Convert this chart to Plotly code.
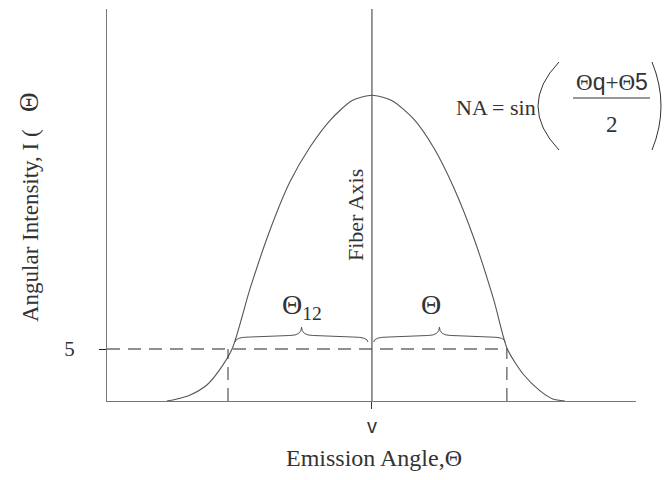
import plotly.graph_objects as go

# ---- data ----
angle_deg = [-45.6, -43.8, -40.4, -36.7, -34.2, -31.1, -27.1, -22.7, -18.2, -13.8, -9.3, -4.4, 0.0,
             4.4, 9.3, 13.8, 18.2, 22.7, 27.1, 30.1, 33.6, 37.3, 40.2, 42.9]
intensity = [0.0, 0.15, 0.58, 1.54, 2.8, 5.0, 10.8, 16.4, 21.1, 24.4, 27.0, 28.9, 29.4,
             28.9, 27.1, 24.3, 20.5, 15.6, 9.7, 5.0, 2.6, 1.0, 0.2, 0.0]
threshold = 5.0
cut_angles = [-32.0, 30.0]           # where the curve meets the threshold
brace_left = [-30.4, -0.9]
brace_right = [0.4, 29.6]
x_range = [-58.9, 58.7]
y_range = [0.0, 37.7]
x_ticks = [0.0]
x_ticktext = ["v"]
y_ticks = [5.0]
y_ticktext = ["5"]

SERIF = "Liberation Serif"
SANS = "Liberation Sans"
INK = "#333333"

fig = go.Figure()

# emission curve
fig.add_trace(go.Scatter(x=angle_deg, y=intensity, mode="lines",
                         line=dict(color="#555555", width=1.1, shape="spline", smoothing=0.7),
                         hoverinfo="skip", showlegend=False))
# fiber axis
fig.add_trace(go.Scatter(x=[0, 0], y=y_range, mode="lines",
                         line=dict(color="#444444", width=1.1), showlegend=False, hoverinfo="skip"))
# threshold dashed line
fig.add_trace(go.Scatter(x=[x_range[0], cut_angles[1]], y=[threshold, threshold], mode="lines",
                         line=dict(color="#222222", width=1.1, dash="13px,8px"),
                         showlegend=False, hoverinfo="skip"))
for ca in cut_angles:
    fig.add_trace(go.Scatter(x=[ca, ca], y=[0, threshold], mode="lines",
                             line=dict(color="#333333", width=1.0, dash="13px,8px"),
                             showlegend=False, hoverinfo="skip"))


def brace_path(x0, x1, ye, yf, yt, r_end=3.2, r_tip=2.6):
    xm = (x0 + x1) / 2
    return (f"M {x0},{ye} Q {x0},{yf} {x0 + r_end},{yf} "
            f"L {xm - r_tip},{yf + 0.15} Q {xm},{yf + 0.15} {xm},{yt} "
            f"Q {xm},{yf + 0.15} {xm + r_tip},{yf + 0.15} "
            f"L {x1 - r_end},{yf} Q {x1},{yf} {x1},{ye}")


for b in (brace_left, brace_right):
    fig.add_shape(type="path", xref="x", yref="y",
                  path=brace_path(b[0], b[1], threshold + 0.67, threshold + 1.15, threshold + 2.1),
                  line=dict(color="#555555", width=1.0))

W, H = 664, 480
L, R, T, B = 107, 28, 9, 79


def P(px, py):
    return (px - L) / (W - L - R), (H - B - py) / (H - T - B)


def ann(text, px, py, size, family=SERIF, angle=0, **kw):
    x, y = P(px, py)
    fig.add_annotation(x=x, y=y, xref="paper", yref="paper", text=text, showarrow=False,
                       textangle=angle, font=dict(family=family, size=size, color=INK),
                       xanchor="center", yanchor="middle", **kw)


ann("Θ<sub>12</sub>", 302, 306, 28)
ann("Θ", 431, 304, 28)
ann("Fiber Axis", 355, 215, 22, angle=-90)
ann("Angular Intensity, I (&nbsp;&nbsp;&nbsp;<span style='font-size:27px'>Θ</span>", 29, 208, 23, angle=-90)
ann("Emission Angle,Θ", 374, 458, 24)
ann("NA = sin", 496, 107, 22)
ann("Θ<span style='font-family:Liberation Sans'>q</span>+Θ<span style='font-family:Liberation Sans'>5</span>",
    612, 82, 23)
ann("2", 612, 124, 23)

# fraction bar and large parentheses of the NA formula
fx0, fy0 = P(573, 98)
fx1, _ = P(650, 98)
fig.add_shape(type="line", xref="paper", yref="paper", x0=fx0, y0=fy0, x1=fx1, y1=fy0,
              line=dict(color=INK, width=1.2))


def paren(px_end, px_mid, py_top, py_bot):
    xa, ya = P(px_end, py_top)
    xc, yc = P(2 * px_mid - px_end, (py_top + py_bot) / 2)
    xb, yb = P(px_end, py_bot)
    return f"M {xa},{ya} Q {xc},{yc} {xb},{yb}"


fig.add_shape(type="path", xref="paper", yref="paper", path=paren(559, 538, 62, 150),
              line=dict(color=INK, width=1.0))
fig.add_shape(type="path", xref="paper", yref="paper", path=paren(652, 661, 62, 150),
              line=dict(color=INK, width=1.0))

fig.update_layout(
    width=W, height=H, margin=dict(l=L, r=R, t=T, b=B),
    paper_bgcolor="white", plot_bgcolor="white", showlegend=False,
    xaxis=dict(range=x_range, showgrid=False, zeroline=False, showline=True,
               linecolor="#777777", linewidth=1.2, tickvals=x_ticks, ticktext=x_ticktext,
               ticks="outside", ticklen=7, tickcolor="#333333", tickwidth=1,
               tickfont=dict(family=SANS, size=20, color=INK)),
    yaxis=dict(range=y_range, showgrid=False, zeroline=False, showline=True,
               linecolor="#777777", linewidth=1.2, tickvals=y_ticks, ticktext=y_ticktext,
               ticks="outside", ticklen=7, tickcolor="#222222", tickwidth=1,
               ticklabelstandoff=20, tickfont=dict(family=SERIF, size=21, color=INK)),
)

fig.write_html("out.html")
